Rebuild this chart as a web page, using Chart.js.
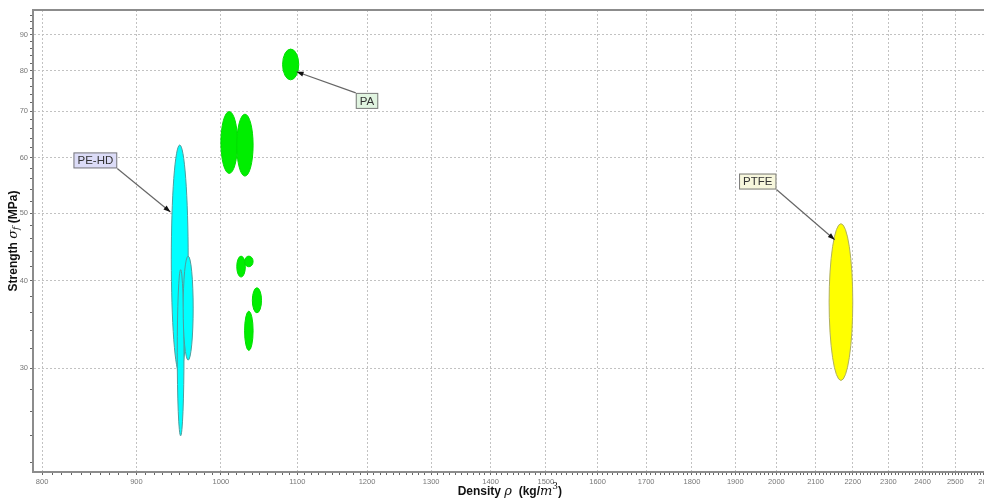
<!DOCTYPE html>
<html>
<head>
<meta charset="utf-8">
<script src="https://cdn.jsdelivr.net/npm/chart.js@4/dist/chart.umd.min.js"></script>
<style>
    html, body { margin: 0; padding: 0; background: #fff; }
    #wrap { width: 984px; height: 500px; overflow: hidden; }
    #box { width: 997px; height: 500px; }
</style>
</head>
<body>
<div id="wrap"><div id="box"><canvas id="chart"></canvas></div></div>
<script>
// material bubbles: density range (kg/m3) and strength range (MPa)
const family = ["PE-HD", "PE-HD", "PE-HD", "PA", "PA", "PA", "PA", "PA", "PA", "PA", "PTFE"];
const densityLow = [940, 947, 954, 1000, 1020, 1020, 1030, 1040, 1030, 1080, 2136];
const densityHigh = [960, 955, 966, 1021, 1041, 1031, 1041, 1052, 1041, 1102, 2200];
const strengthLow = [29.5, 24.0, 30.8, 57.0, 56.5, 40.5, 41.9, 36.0, 31.8, 77.6, 28.8];
const strengthHigh = [62.6, 41.5, 43.4, 69.9, 69.3, 43.4, 43.4, 39.1, 36.2, 85.9, 48.3];

// callout labels and where their arrows point
const labelText = ["PE-HD", "PA", "PTFE"];
const labelDensity = [855, 1200, 1954];
const labelStrength = [59.5, 72.4, 55.5];
const arrowDensity = [939, 1099, 2151];
const arrowStrength = [50.2, 79.7, 45.8];

const densityTicks = [800, 900, 1000, 1100, 1200, 1300, 1400, 1500, 1600, 1700, 1800, 1900, 2000, 2100, 2200, 2300, 2400, 2500, 2600];
const strengthTicks = [30, 40, 50, 60, 70, 80, 90];

const fillColors = { "PE-HD": "#00ffff", "PA": "#00ee00", "PTFE": "#ffff00" };
const lineColors = { "PE-HD": "#4f9d9d", "PA": "#00dd00", "PTFE": "#b0b060" };
const boxColors = { "PE-HD": "#dcdcf8", "PA": "#e0f4e0", "PTFE": "#f7f7dc" };

const tickFont = { family: "'Liberation Sans', Arial, sans-serif", size: 7.5 };
const boldFont = "bold 12px 'Liberation Sans', Arial, sans-serif";
const mathFont = "italic 13px 'DejaVu Serif', serif";

const minorX = [];
for (let v = 800; v <= 2600; v += 10) minorX.push(v);
const minorY = [];
for (let v = 22; v <= 96; v += 2) minorY.push(v);

const datasets = family.map((f, i) => ({
    label: f,
    data: [{ x: densityLow[i], y: strengthLow[i] }, { x: densityHigh[i], y: strengthHigh[i] }],
    backgroundColor: fillColors[f],
    borderColor: lineColors[f],
    pointRadius: 0,
    showLine: false
}));

function drawRich(ctx, parts, x, y) {
    let total = 0;
    parts.forEach(p => { ctx.font = p.font; p.w = ctx.measureText(p.t).width; total += p.w; });
    let cx = x - total / 2;
    ctx.textBaseline = "middle";
    ctx.textAlign = "left";
    ctx.fillStyle = "#111";
    parts.forEach(p => {
        ctx.font = p.font;
        ctx.fillText(p.t, cx, y + (p.dy || 0));
        cx += p.w;
    });
}

const bubblePlugin = {
    id: "bubbles",
    beforeDatasetsDraw(chart) {
        const xs = chart.scales.x, ys = chart.scales.y, ctx = chart.ctx, a = chart.chartArea;
        ctx.save();
        ctx.beginPath();
        ctx.rect(a.left, a.top, a.right - a.left, a.bottom - a.top);
        ctx.clip();
        chart.data.datasets.forEach(ds => {
            const x1 = xs.getPixelForValue(ds.data[0].x), x2 = xs.getPixelForValue(ds.data[1].x);
            const y1 = ys.getPixelForValue(ds.data[0].y), y2 = ys.getPixelForValue(ds.data[1].y);
            ctx.beginPath();
            ctx.ellipse((x1 + x2) / 2, (y1 + y2) / 2, Math.abs(x2 - x1) / 2, Math.abs(y2 - y1) / 2, 0, 0, Math.PI * 2);
            ctx.fillStyle = ds.backgroundColor;
            ctx.fill();
            ctx.lineWidth = 1;
            ctx.strokeStyle = ds.borderColor;
            ctx.stroke();
        });
        ctx.restore();
    },
    afterDraw(chart) {
        const xs = chart.scales.x, ys = chart.scales.y, ctx = chart.ctx, a = chart.chartArea;
        ctx.save();

        // top frame line
        ctx.strokeStyle = "#8c8c8c";
        ctx.lineWidth = 2;
        ctx.beginPath();
        ctx.moveTo(a.left, a.top);
        ctx.lineTo(a.right + 20, a.top);
        ctx.stroke();

        // callouts
        labelText.forEach((t, i) => {
            const cx = xs.getPixelForValue(labelDensity[i]);
            const cy = ys.getPixelForValue(labelStrength[i]);
            const tx = xs.getPixelForValue(arrowDensity[i]);
            const ty = ys.getPixelForValue(arrowStrength[i]);
            ctx.font = "11.5px 'Liberation Sans', Arial, sans-serif";
            const w = ctx.measureText(t).width + 8, h = 16;
            const left = cx - w / 2, top = cy - h / 2;
            const sx = tx > cx ? left + w : left;
            const sy = ty > cy ? top + h : top;

            ctx.strokeStyle = "#666";
            ctx.lineWidth = 1.2;
            ctx.beginPath();
            ctx.moveTo(sx, sy);
            ctx.lineTo(tx, ty);
            ctx.stroke();
            const ang = Math.atan2(ty - sy, tx - sx);
            ctx.fillStyle = "#111";
            ctx.beginPath();
            ctx.moveTo(tx, ty);
            ctx.lineTo(tx - 7 * Math.cos(ang) + 2.5 * Math.sin(ang), ty - 7 * Math.sin(ang) - 2.5 * Math.cos(ang));
            ctx.lineTo(tx - 7 * Math.cos(ang) - 2.5 * Math.sin(ang), ty - 7 * Math.sin(ang) + 2.5 * Math.cos(ang));
            ctx.closePath();
            ctx.fill();

            ctx.fillStyle = boxColors[t];
            ctx.fillRect(left, top, w, h);
            ctx.strokeStyle = "#7a7a7a";
            ctx.lineWidth = 1;
            ctx.strokeRect(left + 0.5, top + 0.5, w - 1, h - 1);
            ctx.fillStyle = "#333";
            ctx.textAlign = "center";
            ctx.textBaseline = "middle";
            ctx.fillText(t, cx, cy + 0.5);
        });

        // axis titles
        drawRich(ctx, [
            { t: "Density ", font: boldFont },
            { t: "ρ", font: mathFont },
            { t: "  (kg/", font: boldFont },
            { t: "m", font: mathFont },
            { t: "3", font: "9px 'DejaVu Serif', serif", dy: -5 },
            { t: ")", font: boldFont }
        ], (a.left + a.right) / 2, xs.bottom - 8);

        ctx.translate(ys.left + 14, (a.top + a.bottom) / 2);
        ctx.rotate(-Math.PI / 2);
        drawRich(ctx, [
            { t: "Strength ", font: boldFont },
            { t: "σ", font: mathFont },
            { t: "f", font: "italic 9px 'DejaVu Serif', serif", dy: 3 },
            { t: " (MPa)", font: boldFont }
        ], 0, 0);
        ctx.restore();
    }
};

new Chart(document.getElementById("chart"), {
    type: "scatter",
    data: { datasets: datasets },
    plugins: [bubblePlugin],
    options: {
        responsive: true,
        maintainAspectRatio: false,
        animation: false,
        events: [],
        layout: { padding: { top: 10, left: 0, right: 0, bottom: 0 } },
        plugins: { legend: { display: false }, tooltip: { enabled: false } },
        scales: {
            x: {
                type: "logarithmic",
                min: 791,
                max: 2600,
                afterBuildTicks: s => { s.ticks = minorX.map(v => ({ value: v, major: densityTicks.includes(v) })); },
                afterFit: s => { s.height = 28; },
                ticks: {
                    autoSkip: false,
                    maxRotation: 0,
                    minRotation: 0,
                    padding: 2,
                    color: "#777",
                    font: tickFont,
                    callback: v => densityTicks.includes(v) ? String(v) : ""
                },
                grid: {
                    color: c => (c.tick && c.tick.major) ? "#c2c2c2" : "rgba(0,0,0,0)",
                    lineWidth: 1,
                    tickLength: 3,
                    tickColor: "#666"
                },
                border: { color: "#8c8c8c", width: 2, dash: [2, 2] }
            },
            y: {
                type: "logarithmic",
                min: 21.3,
                max: 97.7,
                afterBuildTicks: s => { s.ticks = minorY.map(v => ({ value: v, major: strengthTicks.includes(v) })); },
                afterFit: s => { s.width = 33; },
                ticks: {
                    autoSkip: false,
                    padding: 2,
                    color: "#777",
                    font: tickFont,
                    callback: v => strengthTicks.includes(v) ? String(v) : ""
                },
                grid: {
                    color: c => (c.tick && c.tick.major) ? "#c2c2c2" : "rgba(0,0,0,0)",
                    lineWidth: 1,
                    tickLength: 3,
                    tickColor: "#666"
                },
                border: { color: "#8c8c8c", width: 2, dash: [2, 2] }
            }
        }
    }
});
</script>
</body>
</html>
